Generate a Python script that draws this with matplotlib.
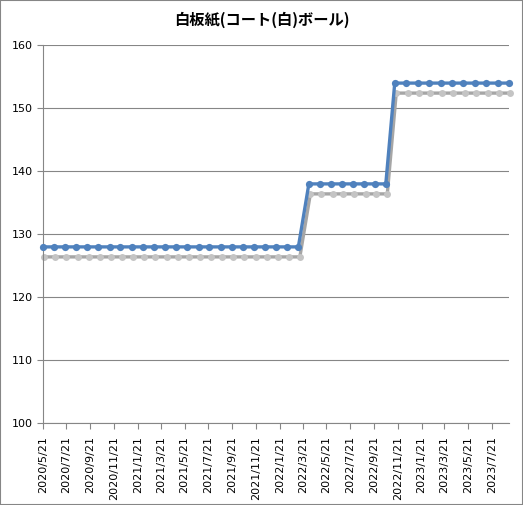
import matplotlib.pyplot as plt
import pandas as pd
from matplotlib.patches import Rectangle
from matplotlib.transforms import offset_copy

plt.rcParams['font.family'] = ['DejaVu Sans', 'Noto Sans CJK JP']

TITLE = "白板紙(コート(白)ボール)"

# survey dates
dates = [
    "2020-05-21", "2020-06-19", "2020-07-17", "2020-08-15", "2020-09-13",
    "2020-10-11", "2020-11-09", "2020-12-07", "2021-01-05", "2021-02-03",
    "2021-03-03", "2021-04-01", "2021-04-30", "2021-05-28", "2021-06-26",
    "2021-07-24", "2021-08-22", "2021-09-20", "2021-10-18", "2021-11-16",
    "2021-12-15", "2022-01-12", "2022-02-10", "2022-03-10",
    "2022-04-06", "2022-05-04", "2022-06-02", "2022-06-30", "2022-07-28",
    "2022-08-26", "2022-09-23", "2022-10-21",
    "2022-11-13", "2022-12-12", "2023-01-11", "2023-02-09", "2023-03-11",
    "2023-04-09", "2023-05-08", "2023-06-07", "2023-07-06", "2023-08-05",
    "2023-09-03",
]
prices = [
    128, 128, 128, 128, 128, 128, 128, 128, 128, 128, 128, 128,
    128, 128, 128, 128, 128, 128, 128, 128, 128, 128, 128, 128,
    138, 138, 138, 138, 138, 138, 138, 138,
    154, 154, 154, 154, 154, 154, 154, 154, 154, 154, 154,
]

tick_labels = [
    "2020/5/21", "2020/7/21", "2020/9/21", "2020/11/21", "2021/1/21",
    "2021/3/21", "2021/5/21", "2021/7/21", "2021/9/21", "2021/11/21",
    "2022/1/21", "2022/3/21", "2022/5/21", "2022/7/21", "2022/9/21",
    "2022/11/21", "2023/1/21", "2023/3/21", "2023/5/21", "2023/7/21",
]
y_ticks = [100, 110, 120, 130, 140, 150, 160]

x = pd.to_datetime(dates)
tick_pos = pd.to_datetime(tick_labels, format="%Y/%m/%d")

GRID = "#868686"
BLUE = "#4f81bd"

fig = plt.figure(figsize=(5.23, 5.05), dpi=100)
ax = fig.add_axes([0.0816, 0.1618, 0.8916, 0.7485])

# drop shadow, same data shifted a few pixels down/right
shadow = offset_copy(ax.transData, fig=fig, x=1.5, y=-10, units="dots")
ax.plot(x, prices, color="#a6a6a6", lw=2.4, marker="o", ms=5,
        mfc="#c4c4c4", mec="none", transform=shadow, clip_on=False, zorder=2)
ax.plot(x, prices, color=BLUE, lw=2.4, marker="o", ms=5.2,
        mfc=BLUE, mec="none", clip_on=False, zorder=3)

ax.set_xlim(x[0], x[-1])
ax.set_ylim(100, 160)
ax.set_yticks(y_ticks)
ax.set_xticks(tick_pos)
ax.set_xticklabels(tick_labels, rotation=90)
ax.tick_params(axis="both", labelsize=8, color=GRID, length=4, width=0.8)
ax.tick_params(axis="y", pad=3)
ax.tick_params(axis="x", pad=5)

ax.yaxis.grid(True, color=GRID, lw=0.8)
ax.set_axisbelow(True)
for side in ("top", "right"):
    ax.spines[side].set_visible(False)
for side in ("left", "bottom"):
    ax.spines[side].set_color(GRID)
    ax.spines[side].set_linewidth(0.8)

fig.text(0.5, 0.961, TITLE, ha="center", va="center", fontsize=11,
         fontweight="bold", family=["Noto Sans CJK JP", "DejaVu Sans"])

fig.patches.append(Rectangle((0, 0), 1, 1, transform=fig.transFigure,
                             fill=False, ec=GRID, lw=1.5))

fig.savefig("out.png", dpi=100)
